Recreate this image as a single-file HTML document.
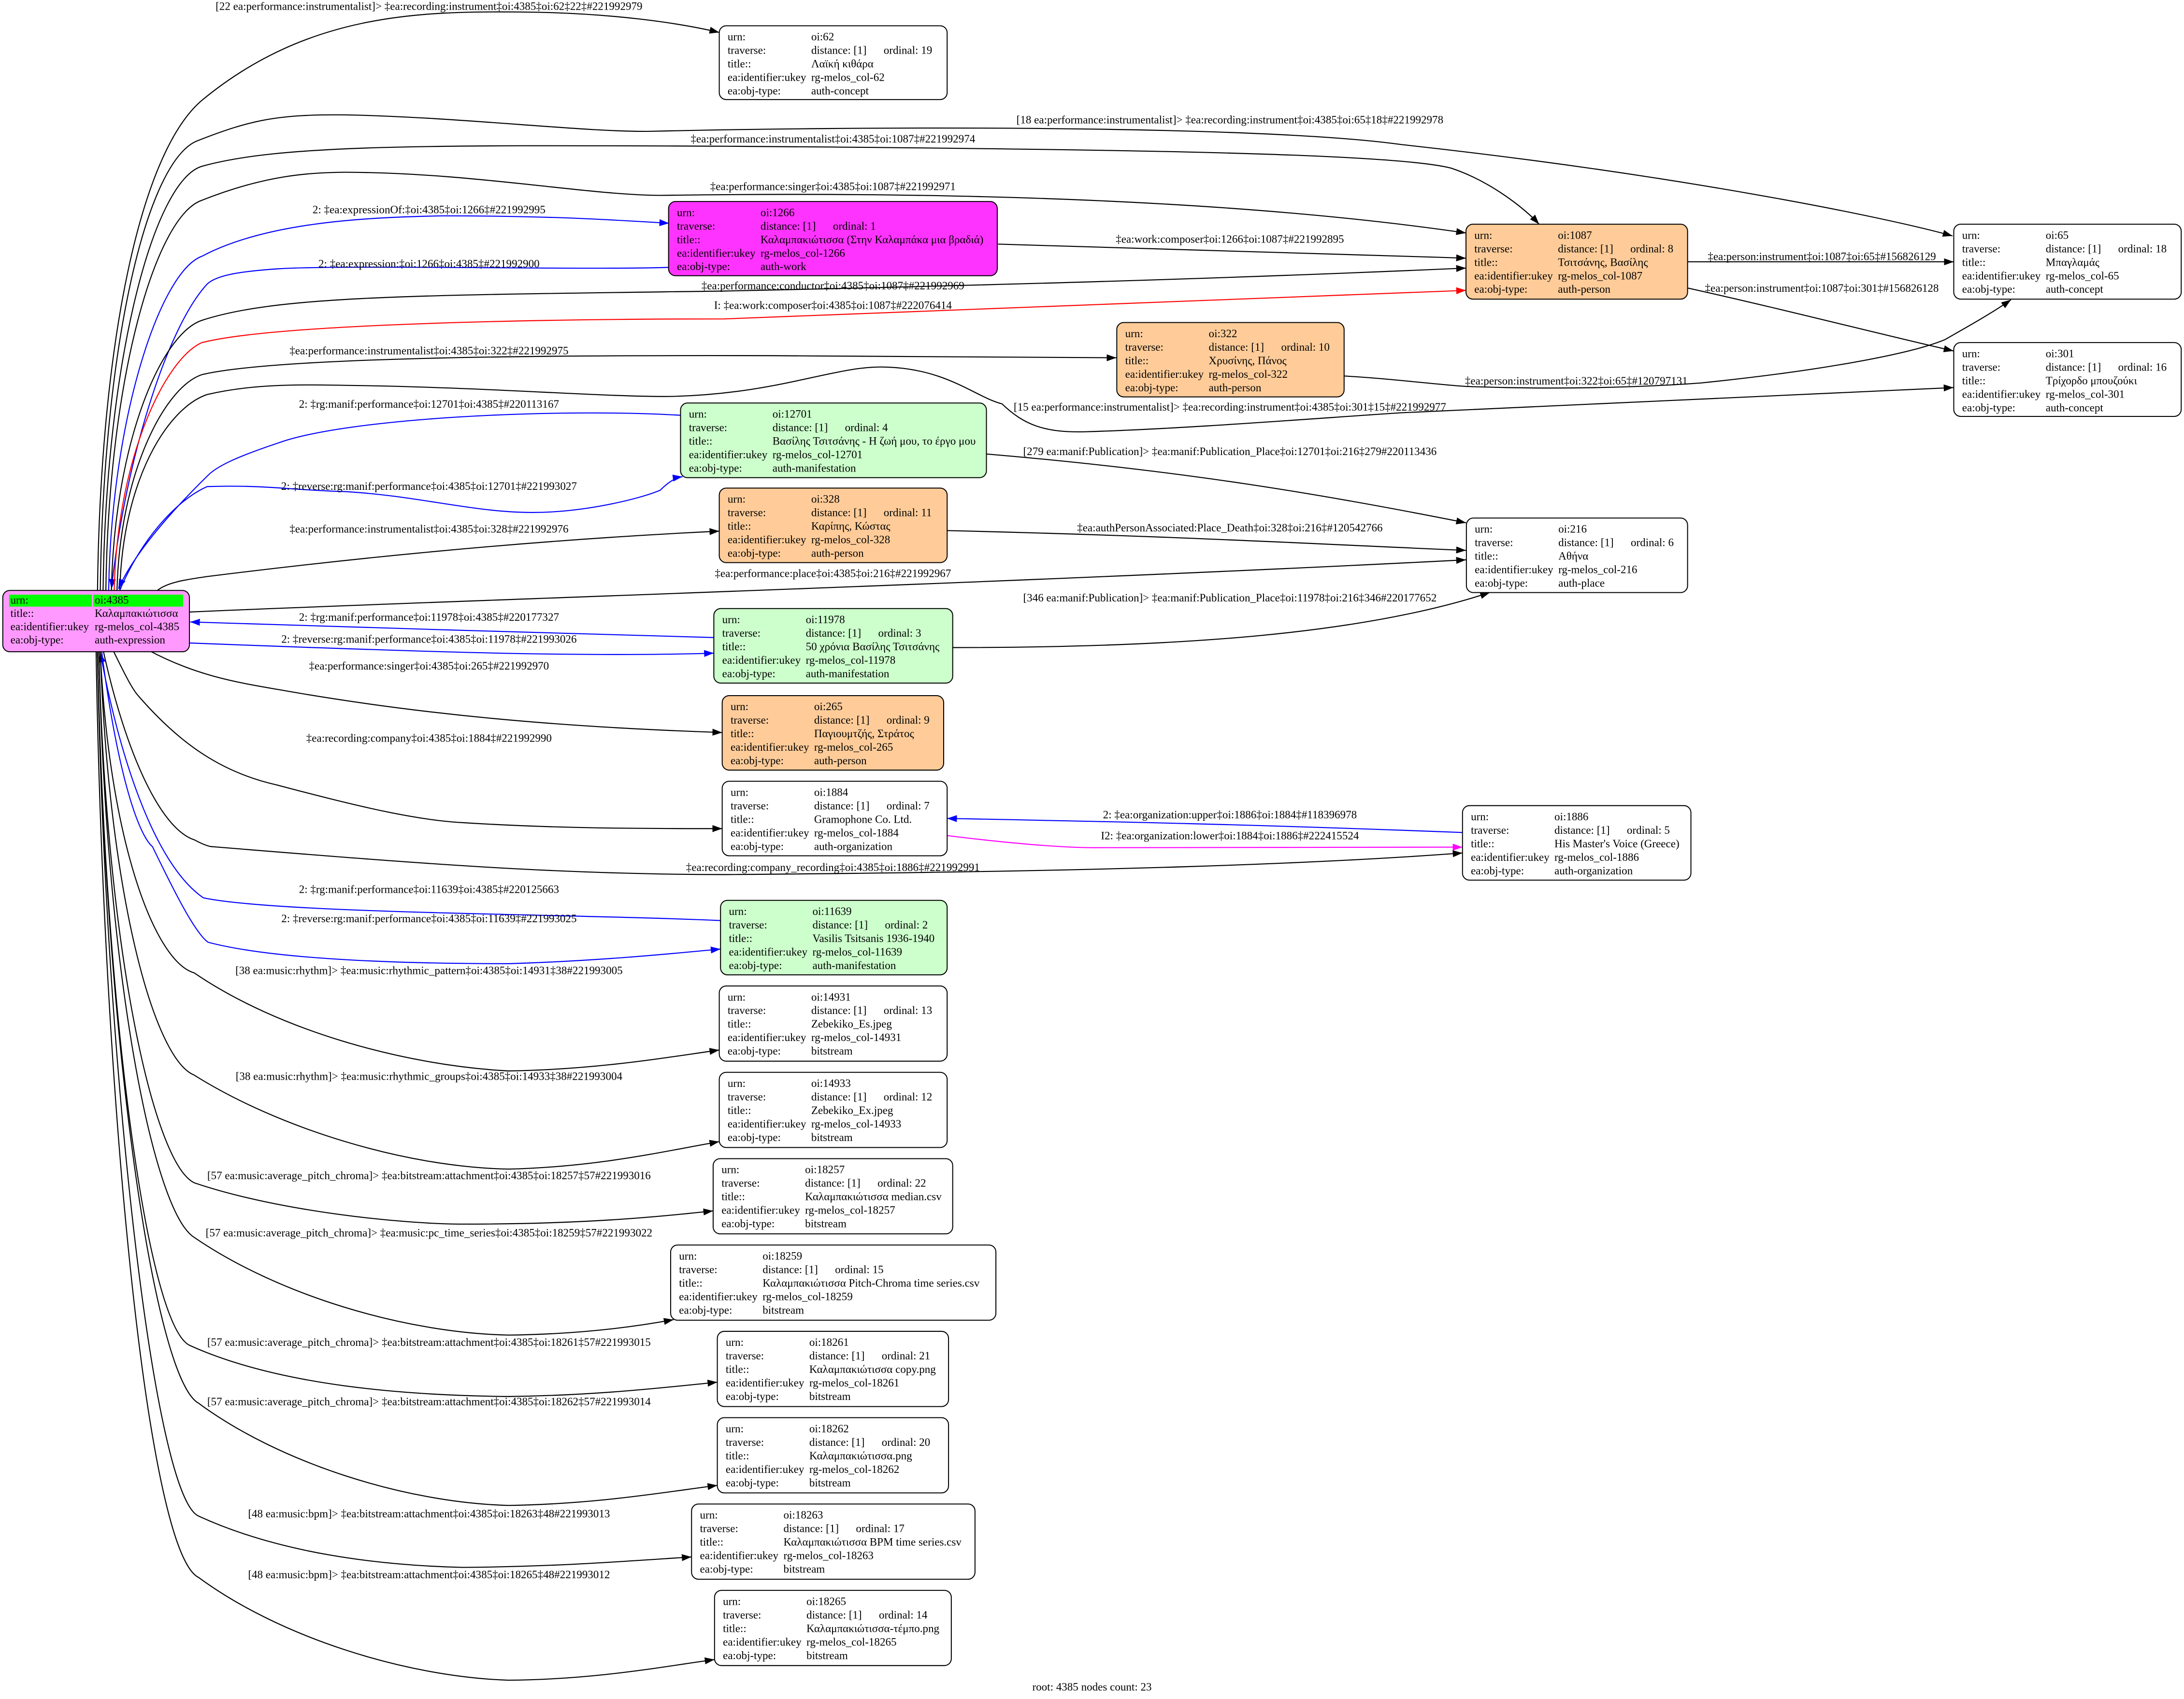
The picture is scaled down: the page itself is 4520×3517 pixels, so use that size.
<!DOCTYPE html>
<html><head><meta charset="utf-8"><style>
html,body{margin:0;padding:0;background:#fff;}
svg{display:block;}
text{font-family:"Liberation Serif","Noto Serif CJK SC",serif;font-size:8px;fill:#000;}
.e{fill:none;stroke:#000;stroke-width:0.75;}
.b{stroke:#00f;}
.r{stroke:#f00;}
.m{stroke:#f0f;}
.n{stroke:#000;stroke-width:0.7;}
.l{text-anchor:middle;}
</style></head><body>
<svg xmlns="http://www.w3.org/2000/svg" width="4520" height="3517" viewBox="0 0 1568 1220" preserveAspectRatio="none">
<defs>
<marker id="mk" markerUnits="userSpaceOnUse" markerWidth="8" markerHeight="6" refX="7" refY="2.5" orient="auto"><path d="M0,0 L7,2.5 L0,5 z" fill="#000"/></marker>
<marker id="mb" markerUnits="userSpaceOnUse" markerWidth="8" markerHeight="6" refX="7" refY="2.5" orient="auto"><path d="M0,0 L7,2.5 L0,5 z" fill="#00f"/></marker>
<marker id="mr" markerUnits="userSpaceOnUse" markerWidth="8" markerHeight="6" refX="7" refY="2.5" orient="auto"><path d="M0,0 L7,2.5 L0,5 z" fill="#f00"/></marker>
<marker id="mm" markerUnits="userSpaceOnUse" markerWidth="8" markerHeight="6" refX="7" refY="2.5" orient="auto"><path d="M0,0 L7,2.5 L0,5 z" fill="#f0f"/></marker>
</defs>
<rect width="1568" height="1220" fill="#fff"/>

<!-- edges -->
<path class="e" marker-end="url(#mk)" d="M70,424 C72,250 100,110 145,72 C220,10 300,8 372,8.6 C440,9 490,17 516.4,23.3"/>
<path class="e" marker-end="url(#mk)" d="M72,424 C74,250 105,115 142,101 C180,86 200,82 248,82.5 C330,84 420,95 467,94.3 C600,91 900,89 1006,103.8 C1200,125 1350,155 1401.8,169.4"/>
<path class="e" marker-end="url(#mk)" d="M74,424 C76,260 110,130 145,119.4 C200,104 300,104 520,105 C800,107 1000,110 1041.7,120.7 C1070,130 1095,150 1105,161"/>
<path class="e" marker-end="url(#mk)" d="M76,424 C78,270 112,155 145,143.8 C190,126 220,124 248,123.7 C340,124 420,140 474,140.3 C700,137 900,145 1052.5,167.3"/>
<path class="e b" marker-end="url(#mb)" d="M78,424 C80,300 115,195 145,184 C190,160 260,156 318,155 C400,155 440,158 480.4,160.3"/>
<path class="e b" marker-end="url(#mb)" d="M480,192 C420,194 250,190 200,193 C170,195 155,198 148.7,204 C120,235 90,330 80,422.8"/>
<path class="e" marker-end="url(#mk)" d="M80,424 C82,320 115,240 145,230 C200,212 300,212 520,209 C800,203 950,197 1052.5,192.5"/>
<path class="e r" marker-end="url(#mr)" d="M82,424 C84,330 118,258 145,246 C200,232 400,229 520,229 L1052.5,208.5"/>
<path class="e" marker-end="url(#mk)" d="M84,424 C86,340 118,278 145,269 C200,256 400,255 555,255.4 C650,256 750,257 801.5,256.9"/>
<path class="e" marker-end="url(#mk)" d="M86,424 C88,345 120,293 148.7,283.3 C180,276 210,276 248,276.7 C350,278 430,285 481,284.7 C560,283 600,262 636.5,263.6 C680,265 700,285 719.4,290 C735,305 750,311 780,310 C850,308 950,300 1006,296.4 C1150,290 1300,282 1402.5,278.3"/>
<path class="e b" marker-end="url(#mb)" d="M488.5,298.2 C400,293 250,300 200,318 C170,328 155,335 148.7,342 C120,370 95,400 85,422.8"/>
<path class="e b" marker-end="url(#mb)" d="M86,424 C100,390 125,360 148.7,349.4 C190,348 210,352 247.8,353 C300,356 340,368 382,368 C420,368 460,358 474,352 C480,346 485,343 490,342.3"/>
<path class="e" marker-end="url(#mk)" d="M113,424 C120,418 135,416 148.7,414 C300,395 420,386 516.4,381.4"/>
<path class="e" marker-end="url(#mk)" d="M135.6,439.5 C300,432 700,420 1052.5,402"/>
<path class="e b" marker-end="url(#mb)" d="M512.5,457.8 C400,455 250,450 136.5,446.6"/>
<path class="e b" marker-end="url(#mb)" d="M136,461.7 C300,468 420,472 512.5,469"/>
<path class="e" marker-end="url(#mk)" d="M106,466.6 C140,485 170,490 199,495 C300,513 400,522 518.5,526"/>
<path class="e" marker-end="url(#mk)" d="M81,466.6 C90,485 95,495 99.6,500 C130,535 160,555 199,563.7 C260,580 300,589 332,590.7 C400,595 460,595 518.5,595"/>
<path class="e" marker-end="url(#mk)" d="M74,466.6 C90,540 115,595 139.4,603 C145,606 150,608 152.7,608 C300,620 400,628 520,628 C800,626 950,620 1050,612.5"/>
<path class="e b" marker-end="url(#mb)" d="M517.3,661 C400,656 200,656 146,644.7 C110,620 85,540 72,468.5"/>
<path class="e b" marker-end="url(#mb)" d="M73,468 C85,560 100,600 109.5,608 C125,640 140,670 149.4,676.6 C200,690 300,692 365,692 C430,690 480,685 517.3,681.5"/>
<path class="e" marker-end="url(#mk)" d="M72,468 C78,600 110,690 139.4,698.6 C200,740 290,765 365,769 C430,768 480,759 516.4,754"/>
<path class="e" marker-end="url(#mk)" d="M72,468 C78,640 110,760 139.4,772 C200,810 290,838 365,839.5 C430,838 480,826 516.4,819.8"/>
<path class="e" marker-end="url(#mk)" d="M71,468 C76,680 110,835 139.4,849.3 C200,870 290,879 332,879 C420,879 470,874 512,869.5"/>
<path class="e" marker-end="url(#mk)" d="M71,468 C76,700 110,870 139.4,888.5 C200,930 290,957 365,958.7 C420,958 460,952 483.6,947.6"/>
<path class="e" marker-end="url(#mk)" d="M70,468 C75,720 105,950 136,966 C200,995 290,1002 365,1002.8 C430,1002 480,996 515,992.5"/>
<path class="e" marker-end="url(#mk)" d="M70,468 C75,740 110,990 142.7,1007.7 C200,1050 290,1079 365,1081 C430,1080 480,1071 515,1066.6"/>
<path class="e" marker-end="url(#mk)" d="M70,468 C75,760 110,1075 142.7,1088.7 C200,1115 270,1124 332,1125.5 C400,1125 450,1121 496.5,1118"/>
<path class="e" marker-end="url(#mk)" d="M69,468 C74,780 105,1115 142.7,1132.8 C200,1175 290,1204 365,1206.5 C430,1206 480,1196 513,1191.7"/>
<path class="e" marker-end="url(#mk)" d="M716.5,175.3 C850,179 950,182 1052.5,185.4"/>
<path class="e" marker-end="url(#mk)" d="M1211.6,188 L1402.7,188"/>
<path class="e" marker-end="url(#mk)" d="M1211.6,206.8 C1280,222 1350,240 1402.5,252"/>
<path class="e" marker-end="url(#mk)" d="M965,270 C1000,272 1030,276 1052.5,277.5 C1120,280 1180,278 1221,275 C1300,267 1370,255 1396.5,243.8 C1410,236 1430,225 1443.8,215.2"/>
<path class="e" marker-end="url(#mk)" d="M708.2,326 C850,338 950,355 1052.5,375.4"/>
<path class="e" marker-end="url(#mk)" d="M680,381 C850,385 950,391 1052.5,395.2"/>
<path class="e" marker-end="url(#mk)" d="M684,465 C850,465 980,455 1069.7,425.4"/>
<path class="e b" marker-end="url(#mb)" d="M1050,597.8 C900,592 800,590 680,587.7"/>
<path class="e m" marker-end="url(#mm)" d="M680,600 C720,605 760,608.7 786,608.7 C900,609 1000,608.5 1050,608.3"/>

<!-- edge labels -->
<g class="l">
<text class="l" x="308" y="7.1">[22 ea:performance:instrumentalist]&gt; ‡ea:recording:instrument‡oi:4385‡oi:62‡22‡#221992979</text>
<text class="l" x="308" y="153.2">2: ‡ea:expressionOf:‡oi:4385‡oi:1266‡#221992995</text>
<text class="l" x="308" y="192">2: ‡ea:expression:‡oi:1266‡oi:4385‡#221992900</text>
<text class="l" x="308" y="254.4">‡ea:performance:instrumentalist‡oi:4385‡oi:322‡#221992975</text>
<text class="l" x="308" y="292.7">2: ‡rg:manif:performance‡oi:12701‡oi:4385‡#220113167</text>
<text class="l" x="308" y="351.7">2: ‡reverse:rg:manif:performance‡oi:4385‡oi:12701‡#221993027</text>
<text class="l" x="308" y="382.4">‡ea:performance:instrumentalist‡oi:4385‡oi:328‡#221992976</text>
<text class="l" x="308" y="445.8">2: ‡rg:manif:performance‡oi:11978‡oi:4385‡#220177327</text>
<text class="l" x="308" y="461.6">2: ‡reverse:rg:manif:performance‡oi:4385‡oi:11978‡#221993026</text>
<text class="l" x="308" y="480.7">‡ea:performance:singer‡oi:4385‡oi:265‡#221992970</text>
<text class="l" x="308" y="532.7">‡ea:recording:company‡oi:4385‡oi:1884‡#221992990</text>
<text class="l" x="308" y="641.3">2: ‡rg:manif:performance‡oi:11639‡oi:4385‡#220125663</text>
<text class="l" x="308" y="662.2">2: ‡reverse:rg:manif:performance‡oi:4385‡oi:11639‡#221993025</text>
<text class="l" x="308" y="699.5">[38 ea:music:rhythm]&gt; ‡ea:music:rhythmic_pattern‡oi:4385‡oi:14931‡38#221993005</text>
<text class="l" x="308" y="775.5">[38 ea:music:rhythm]&gt; ‡ea:music:rhythmic_groups‡oi:4385‡oi:14933‡38#221993004</text>
<text class="l" x="308" y="846.7">[57 ea:music:average_pitch_chroma]&gt; ‡ea:bitstream:attachment‡oi:4385‡oi:18257‡57#221993016</text>
<text class="l" x="308" y="887.8">[57 ea:music:average_pitch_chroma]&gt; ‡ea:music:pc_time_series‡oi:4385‡oi:18259‡57#221993022</text>
<text class="l" x="308" y="966.4">[57 ea:music:average_pitch_chroma]&gt; ‡ea:bitstream:attachment‡oi:4385‡oi:18261‡57#221993015</text>
<text class="l" x="308" y="1009.1">[57 ea:music:average_pitch_chroma]&gt; ‡ea:bitstream:attachment‡oi:4385‡oi:18262‡57#221993014</text>
<text class="l" x="308" y="1089.5">[48 ea:music:bpm]&gt; ‡ea:bitstream:attachment‡oi:4385‡oi:18263‡48#221993013</text>
<text class="l" x="308" y="1133.2">[48 ea:music:bpm]&gt; ‡ea:bitstream:attachment‡oi:4385‡oi:18265‡48#221993012</text>
<text class="l" x="598" y="102.4">‡ea:performance:instrumentalist‡oi:4385‡oi:1087‡#221992974</text>
<text class="l" x="598" y="136.5">‡ea:performance:singer‡oi:4385‡oi:1087‡#221992971</text>
<text class="l" x="598" y="207.8">‡ea:performance:conductor‡oi:4385‡oi:1087‡#221992969</text>
<text class="l" x="598" y="221.8">I: ‡ea:work:composer‡oi:4385‡oi:1087‡#222076414</text>
<text class="l" x="598" y="414.4">‡ea:performance:place‡oi:4385‡oi:216‡#221992967</text>
<text class="l" x="598" y="625.4">‡ea:recording:company_recording‡oi:4385‡oi:1886‡#221992991</text>
<text class="l" x="883" y="88.6">[18 ea:performance:instrumentalist]&gt; ‡ea:recording:instrument‡oi:4385‡oi:65‡18‡#221992978</text>
<text class="l" x="883" y="174.3">‡ea:work:composer‡oi:1266‡oi:1087‡#221992895</text>
<text class="l" x="883" y="294.8">[15 ea:performance:instrumentalist]&gt; ‡ea:recording:instrument‡oi:4385‡oi:301‡15‡#221992977</text>
<text class="l" x="883" y="326.8">[279 ea:manif:Publication]&gt; ‡ea:manif:Publication_Place‡oi:12701‡oi:216‡279#220113436</text>
<text class="l" x="883" y="381.6">‡ea:authPersonAssociated:Place_Death‡oi:328‡oi:216‡#120542766</text>
<text class="l" x="883" y="431.8">[346 ea:manif:Publication]&gt; ‡ea:manif:Publication_Place‡oi:11978‡oi:216‡346#220177652</text>
<text class="l" x="883" y="587.6">2: ‡ea:organization:upper‡oi:1886‡oi:1884‡#118396978</text>
<text class="l" x="883" y="602.8">I2: ‡ea:organization:lower‡oi:1884‡oi:1886‡#222415524</text>
<text class="l" x="1308" y="186.8">‡ea:person:instrument‡oi:1087‡oi:65‡#156826129</text>
<text class="l" x="1308" y="209.6">‡ea:person:instrument‡oi:1087‡oi:301‡#156826128</text>
<text class="l" x="1131.7" y="276.1">‡ea:person:instrument‡oi:322‡oi:65‡#120797131</text>
</g>

<!-- root node -->
<rect class="n" x="2" y="424" width="134" height="44" rx="5" fill="#ff99ff"/>
<rect x="6.6" y="427" width="59.4" height="8.6" fill="#00ff00"/>
<rect x="67" y="427" width="64.5" height="8.6" fill="#00ff00"/>
<text x="7.5" y="433.5">urn:</text><text x="68" y="433.5">oi:4385</text>
<text x="7.5" y="443">title::</text><text x="68" y="443">Καλαμπακιώτισσα</text>
<text x="7.5" y="452.5">ea:identifier:ukey</text><text x="68" y="452.5">rg-melos_col-4385</text>
<text x="7.5" y="462">ea:obj-type:</text><text x="68" y="462">auth-expression</text>

<!-- node 62 -->
<rect class="n" x="516.4" y="18.5" width="163.6" height="53" rx="5" fill="#fff"/>
<text x="522.4" y="29">urn:</text><text x="582.4" y="29">oi:62</text>
<text x="522.4" y="38.7">traverse:</text><text x="582.4" y="38.7">distance: [1]</text><text x="634.4" y="38.7">ordinal: 19</text>
<text x="522.4" y="48.4">title::</text><text x="582.4" y="48.4">Λαϊκή κιθάρα</text>
<text x="522.4" y="58.1">ea:identifier:ukey</text><text x="582.4" y="58.1">rg-melos_col-62</text>
<text x="522.4" y="67.8">ea:obj-type:</text><text x="582.4" y="67.8">auth-concept</text>

<!-- node 1266 -->
<rect class="n" x="480" y="144.7" width="236" height="53.3" rx="5" fill="#ff33ff"/>
<text x="486" y="155.2">urn:</text><text x="546" y="155.2">oi:1266</text>
<text x="486" y="164.9">traverse:</text><text x="546" y="164.9">distance: [1]</text><text x="598" y="164.9">ordinal: 1</text>
<text x="486" y="174.6">title::</text><text x="546" y="174.6">Καλαμπακιώτισσα (Στην Καλαμπάκα μια βραδιά)</text>
<text x="486" y="184.3">ea:identifier:ukey</text><text x="546" y="184.3">rg-melos_col-1266</text>
<text x="486" y="194">ea:obj-type:</text><text x="546" y="194">auth-work</text>

<!-- node 1087 -->
<rect class="n" x="1052.5" y="161" width="159.1" height="53.8" rx="5" fill="#ffcc99"/>
<text x="1058.5" y="171.5">urn:</text><text x="1118.5" y="171.5">oi:1087</text>
<text x="1058.5" y="181.2">traverse:</text><text x="1118.5" y="181.2">distance: [1]</text><text x="1170.5" y="181.2">ordinal: 8</text>
<text x="1058.5" y="190.9">title::</text><text x="1118.5" y="190.9">Τσιτσάνης, Βασίλης</text>
<text x="1058.5" y="200.6">ea:identifier:ukey</text><text x="1118.5" y="200.6">rg-melos_col-1087</text>
<text x="1058.5" y="210.3">ea:obj-type:</text><text x="1118.5" y="210.3">auth-person</text>

<!-- node 65 -->
<rect class="n" x="1402.7" y="161" width="163.3" height="53.8" rx="5" fill="#fff"/>
<text x="1408.7" y="171.5">urn:</text><text x="1468.7" y="171.5">oi:65</text>
<text x="1408.7" y="181.2">traverse:</text><text x="1468.7" y="181.2">distance: [1]</text><text x="1520.7" y="181.2">ordinal: 18</text>
<text x="1408.7" y="190.9">title::</text><text x="1468.7" y="190.9">Μπαγλαμάς</text>
<text x="1408.7" y="200.6">ea:identifier:ukey</text><text x="1468.7" y="200.6">rg-melos_col-65</text>
<text x="1408.7" y="210.3">ea:obj-type:</text><text x="1468.7" y="210.3">auth-concept</text>

<!-- node 322 -->
<rect class="n" x="801.8" y="231.6" width="163.2" height="53.4" rx="5" fill="#ffcc99"/>
<text x="807.8" y="242.1">urn:</text><text x="867.8" y="242.1">oi:322</text>
<text x="807.8" y="251.8">traverse:</text><text x="867.8" y="251.8">distance: [1]</text><text x="919.8" y="251.8">ordinal: 10</text>
<text x="807.8" y="261.5">title::</text><text x="867.8" y="261.5">Χρυσίνης, Πάνος</text>
<text x="807.8" y="271.2">ea:identifier:ukey</text><text x="867.8" y="271.2">rg-melos_col-322</text>
<text x="807.8" y="280.9">ea:obj-type:</text><text x="867.8" y="280.9">auth-person</text>

<!-- node 301 -->
<rect class="n" x="1402.7" y="246" width="163.3" height="53" rx="5" fill="#fff"/>
<text x="1408.7" y="256.5">urn:</text><text x="1468.7" y="256.5">oi:301</text>
<text x="1408.7" y="266.2">traverse:</text><text x="1468.7" y="266.2">distance: [1]</text><text x="1520.7" y="266.2">ordinal: 16</text>
<text x="1408.7" y="275.9">title::</text><text x="1468.7" y="275.9">Τρίχορδο μπουζούκι</text>
<text x="1408.7" y="285.6">ea:identifier:ukey</text><text x="1468.7" y="285.6">rg-melos_col-301</text>
<text x="1408.7" y="295.3">ea:obj-type:</text><text x="1468.7" y="295.3">auth-concept</text>

<!-- node 12701 -->
<rect class="n" x="488.6" y="289.4" width="219.6" height="53.6" rx="5" fill="#ccffcc"/>
<text x="494.6" y="299.9">urn:</text><text x="554.6" y="299.9">oi:12701</text>
<text x="494.6" y="309.6">traverse:</text><text x="554.6" y="309.6">distance: [1]</text><text x="606.6" y="309.6">ordinal: 4</text>
<text x="494.6" y="319.3">title::</text><text x="554.6" y="319.3">Βασίλης Τσιτσάνης - Η ζωή μου, το έργο μου</text>
<text x="494.6" y="329">ea:identifier:ukey</text><text x="554.6" y="329">rg-melos_col-12701</text>
<text x="494.6" y="338.7">ea:obj-type:</text><text x="554.6" y="338.7">auth-manifestation</text>

<!-- node 328 -->
<rect class="n" x="516.4" y="350.5" width="163.6" height="53.5" rx="5" fill="#ffcc99"/>
<text x="522.4" y="361">urn:</text><text x="582.4" y="361">oi:328</text>
<text x="522.4" y="370.7">traverse:</text><text x="582.4" y="370.7">distance: [1]</text><text x="634.4" y="370.7">ordinal: 11</text>
<text x="522.4" y="380.4">title::</text><text x="582.4" y="380.4">Καρίπης, Κώστας</text>
<text x="522.4" y="390.1">ea:identifier:ukey</text><text x="582.4" y="390.1">rg-melos_col-328</text>
<text x="522.4" y="399.8">ea:obj-type:</text><text x="582.4" y="399.8">auth-person</text>

<!-- node 216 -->
<rect class="n" x="1052.8" y="372" width="158.8" height="53.5" rx="5" fill="#fff"/>
<text x="1058.8" y="382.5">urn:</text><text x="1118.8" y="382.5">oi:216</text>
<text x="1058.8" y="392.2">traverse:</text><text x="1118.8" y="392.2">distance: [1]</text><text x="1170.8" y="392.2">ordinal: 6</text>
<text x="1058.8" y="401.9">title::</text><text x="1118.8" y="401.9">Αθήνα</text>
<text x="1058.8" y="411.6">ea:identifier:ukey</text><text x="1118.8" y="411.6">rg-melos_col-216</text>
<text x="1058.8" y="421.3">ea:obj-type:</text><text x="1118.8" y="421.3">auth-place</text>

<!-- node 11978 -->
<rect class="n" x="512.5" y="437" width="171.5" height="53.5" rx="5" fill="#ccffcc"/>
<text x="518.5" y="447.5">urn:</text><text x="578.5" y="447.5">oi:11978</text>
<text x="518.5" y="457.2">traverse:</text><text x="578.5" y="457.2">distance: [1]</text><text x="630.5" y="457.2">ordinal: 3</text>
<text x="518.5" y="466.9">title::</text><text x="578.5" y="466.9">50 χρόνια Βασίλης Τσιτσάνης</text>
<text x="518.5" y="476.6">ea:identifier:ukey</text><text x="578.5" y="476.6">rg-melos_col-11978</text>
<text x="518.5" y="486.3">ea:obj-type:</text><text x="578.5" y="486.3">auth-manifestation</text>

<!-- node 265 -->
<rect class="n" x="518.5" y="499.5" width="159" height="53.5" rx="5" fill="#ffcc99"/>
<text x="524.5" y="510">urn:</text><text x="584.5" y="510">oi:265</text>
<text x="524.5" y="519.7">traverse:</text><text x="584.5" y="519.7">distance: [1]</text><text x="636.5" y="519.7">ordinal: 9</text>
<text x="524.5" y="529.4">title::</text><text x="584.5" y="529.4">Παγιουμτζής, Στράτος</text>
<text x="524.5" y="539.1">ea:identifier:ukey</text><text x="584.5" y="539.1">rg-melos_col-265</text>
<text x="524.5" y="548.8">ea:obj-type:</text><text x="584.5" y="548.8">auth-person</text>

<!-- node 1884 -->
<rect class="n" x="518.5" y="561" width="161.5" height="53.5" rx="5" fill="#fff"/>
<text x="524.5" y="571.5">urn:</text><text x="584.5" y="571.5">oi:1884</text>
<text x="524.5" y="581.2">traverse:</text><text x="584.5" y="581.2">distance: [1]</text><text x="636.5" y="581.2">ordinal: 7</text>
<text x="524.5" y="590.9">title::</text><text x="584.5" y="590.9">Gramophone Co. Ltd.</text>
<text x="524.5" y="600.6">ea:identifier:ukey</text><text x="584.5" y="600.6">rg-melos_col-1884</text>
<text x="524.5" y="610.3">ea:obj-type:</text><text x="584.5" y="610.3">auth-organization</text>

<!-- node 1886 -->
<rect class="n" x="1050" y="578.5" width="164" height="53.5" rx="5" fill="#fff"/>
<text x="1056" y="589">urn:</text><text x="1116" y="589">oi:1886</text>
<text x="1056" y="598.7">traverse:</text><text x="1116" y="598.7">distance: [1]</text><text x="1168" y="598.7">ordinal: 5</text>
<text x="1056" y="608.4">title::</text><text x="1116" y="608.4">His Master's Voice (Greece)</text>
<text x="1056" y="618.1">ea:identifier:ukey</text><text x="1116" y="618.1">rg-melos_col-1886</text>
<text x="1056" y="627.8">ea:obj-type:</text><text x="1116" y="627.8">auth-organization</text>

<!-- node 11639 -->
<rect class="n" x="517.3" y="646.5" width="162.7" height="53.5" rx="5" fill="#ccffcc"/>
<text x="523.3" y="657">urn:</text><text x="583.3" y="657">oi:11639</text>
<text x="523.3" y="666.7">traverse:</text><text x="583.3" y="666.7">distance: [1]</text><text x="635.3" y="666.7">ordinal: 2</text>
<text x="523.3" y="676.4">title::</text><text x="583.3" y="676.4">Vasilis Tsitsanis 1936-1940</text>
<text x="523.3" y="686.1">ea:identifier:ukey</text><text x="583.3" y="686.1">rg-melos_col-11639</text>
<text x="523.3" y="695.8">ea:obj-type:</text><text x="583.3" y="695.8">auth-manifestation</text>

<!-- node 14931 -->
<rect class="n" x="516.4" y="708" width="163.6" height="54" rx="5" fill="#fff"/>
<text x="522.4" y="718.5">urn:</text><text x="582.4" y="718.5">oi:14931</text>
<text x="522.4" y="728.2">traverse:</text><text x="582.4" y="728.2">distance: [1]</text><text x="634.4" y="728.2">ordinal: 13</text>
<text x="522.4" y="737.9">title::</text><text x="582.4" y="737.9">Zebekiko_Es.jpeg</text>
<text x="522.4" y="747.6">ea:identifier:ukey</text><text x="582.4" y="747.6">rg-melos_col-14931</text>
<text x="522.4" y="757.3">ea:obj-type:</text><text x="582.4" y="757.3">bitstream</text>

<!-- node 14933 -->
<rect class="n" x="516.4" y="770" width="163.6" height="54" rx="5" fill="#fff"/>
<text x="522.4" y="780.5">urn:</text><text x="582.4" y="780.5">oi:14933</text>
<text x="522.4" y="790.2">traverse:</text><text x="582.4" y="790.2">distance: [1]</text><text x="634.4" y="790.2">ordinal: 12</text>
<text x="522.4" y="799.9">title::</text><text x="582.4" y="799.9">Zebekiko_Ex.jpeg</text>
<text x="522.4" y="809.6">ea:identifier:ukey</text><text x="582.4" y="809.6">rg-melos_col-14933</text>
<text x="522.4" y="819.3">ea:obj-type:</text><text x="582.4" y="819.3">bitstream</text>

<!-- node 18257 -->
<rect class="n" x="512" y="832" width="172" height="54" rx="5" fill="#fff"/>
<text x="518" y="842.5">urn:</text><text x="578" y="842.5">oi:18257</text>
<text x="518" y="852.2">traverse:</text><text x="578" y="852.2">distance: [1]</text><text x="630" y="852.2">ordinal: 22</text>
<text x="518" y="861.9">title::</text><text x="578" y="861.9">Καλαμπακιώτισσα median.csv</text>
<text x="518" y="871.6">ea:identifier:ukey</text><text x="578" y="871.6">rg-melos_col-18257</text>
<text x="518" y="881.3">ea:obj-type:</text><text x="578" y="881.3">bitstream</text>

<!-- node 18259 -->
<rect class="n" x="481.5" y="894" width="233.5" height="54" rx="5" fill="#fff"/>
<text x="487.5" y="904.5">urn:</text><text x="547.5" y="904.5">oi:18259</text>
<text x="487.5" y="914.2">traverse:</text><text x="547.5" y="914.2">distance: [1]</text><text x="599.5" y="914.2">ordinal: 15</text>
<text x="487.5" y="923.9">title::</text><text x="547.5" y="923.9">Καλαμπακιώτισσα Pitch-Chroma time series.csv</text>
<text x="487.5" y="933.6">ea:identifier:ukey</text><text x="547.5" y="933.6">rg-melos_col-18259</text>
<text x="487.5" y="943.3">ea:obj-type:</text><text x="547.5" y="943.3">bitstream</text>

<!-- node 18261 -->
<rect class="n" x="515" y="956" width="166" height="54" rx="5" fill="#fff"/>
<text x="521" y="966.5">urn:</text><text x="581" y="966.5">oi:18261</text>
<text x="521" y="976.2">traverse:</text><text x="581" y="976.2">distance: [1]</text><text x="633" y="976.2">ordinal: 21</text>
<text x="521" y="985.9">title::</text><text x="581" y="985.9">Καλαμπακιώτισσα copy.png</text>
<text x="521" y="995.6">ea:identifier:ukey</text><text x="581" y="995.6">rg-melos_col-18261</text>
<text x="521" y="1005.3">ea:obj-type:</text><text x="581" y="1005.3">bitstream</text>

<!-- node 18262 -->
<rect class="n" x="515" y="1018" width="166" height="54" rx="5" fill="#fff"/>
<text x="521" y="1028.5">urn:</text><text x="581" y="1028.5">oi:18262</text>
<text x="521" y="1038.2">traverse:</text><text x="581" y="1038.2">distance: [1]</text><text x="633" y="1038.2">ordinal: 20</text>
<text x="521" y="1047.9">title::</text><text x="581" y="1047.9">Καλαμπακιώτισσα.png</text>
<text x="521" y="1057.6">ea:identifier:ukey</text><text x="581" y="1057.6">rg-melos_col-18262</text>
<text x="521" y="1067.3">ea:obj-type:</text><text x="581" y="1067.3">bitstream</text>

<!-- node 18263 -->
<rect class="n" x="496.5" y="1080" width="203.5" height="54" rx="5" fill="#fff"/>
<text x="502.5" y="1090.5">urn:</text><text x="562.5" y="1090.5">oi:18263</text>
<text x="502.5" y="1100.2">traverse:</text><text x="562.5" y="1100.2">distance: [1]</text><text x="614.5" y="1100.2">ordinal: 17</text>
<text x="502.5" y="1109.9">title::</text><text x="562.5" y="1109.9">Καλαμπακιώτισσα BPM time series.csv</text>
<text x="502.5" y="1119.6">ea:identifier:ukey</text><text x="562.5" y="1119.6">rg-melos_col-18263</text>
<text x="502.5" y="1129.3">ea:obj-type:</text><text x="562.5" y="1129.3">bitstream</text>

<!-- node 18265 -->
<rect class="n" x="513" y="1142" width="170" height="54" rx="5" fill="#fff"/>
<text x="519" y="1152.5">urn:</text><text x="579" y="1152.5">oi:18265</text>
<text x="519" y="1162.2">traverse:</text><text x="579" y="1162.2">distance: [1]</text><text x="631" y="1162.2">ordinal: 14</text>
<text x="519" y="1171.9">title::</text><text x="579" y="1171.9">Καλαμπακιώτισσα-τέμπο.png</text>
<text x="519" y="1181.6">ea:identifier:ukey</text><text x="579" y="1181.6">rg-melos_col-18265</text>
<text x="519" y="1191.3">ea:obj-type:</text><text x="579" y="1191.3">bitstream</text>

<text class="l" x="784" y="1214">root: 4385 nodes count: 23</text>
</svg>
</body></html>
